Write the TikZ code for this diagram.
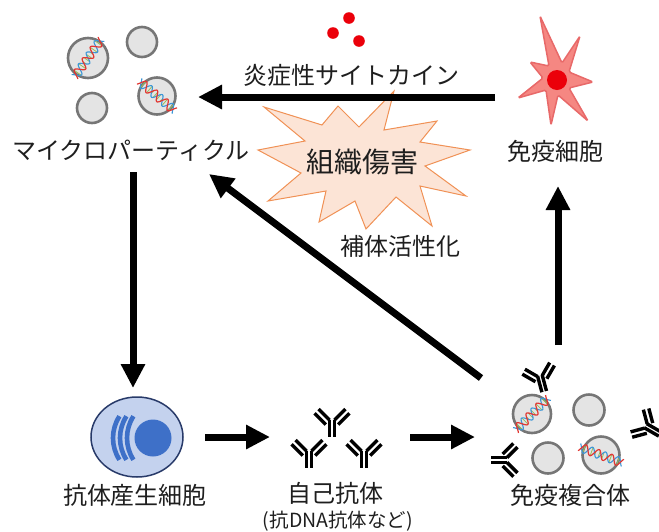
\documentclass[tikz,border=0pt]{standalone}
\usepackage{fontspec}
\setmainfont{Noto Sans CJK JP}
\usetikzlibrary{arrows.meta}

\definecolor{cellgray}{RGB}{228,228,228}
\definecolor{celledge}{RGB}{118,118,118}
\definecolor{dnared}{RGB}{225,55,50}
\definecolor{dnablue}{RGB}{60,150,215}
\definecolor{dnagreen}{RGB}{150,190,90}
\definecolor{burstfill}{RGB}{252,228,214}
\definecolor{burstedge}{RGB}{240,145,85}
\definecolor{dcfill}{RGB}{245,135,130}
\definecolor{dcedge}{RGB}{232,105,105}
\definecolor{dccore}{RGB}{235,0,10}
\definecolor{bfill}{RGB}{196,210,238}
\definecolor{bedge}{RGB}{40,58,105}
\definecolor{bnuc}{RGB}{62,112,200}
\definecolor{txt}{RGB}{30,30,30}

\tikzset{
  bigarrow/.style={line width=7pt, -{Triangle[length=24pt,width=23pt]}},
  label/.style={text=txt, font=\fontsize{24}{27}\selectfont, inner sep=0pt},
  particle/.style={fill=cellgray, draw=celledge, line width=2.6pt},
  abline/.style={line width=3.4pt, line cap=butt},
  % DNA double helix laid along the local x axis
  dna/.pic={
    \foreach \t in {-18,-14,...,18}
      \draw[dnagreen, line width=0.8pt] (\t,{4*sin(\t*26)}) -- (\t,{-4*sin(\t*26)});
    \draw[dnablue, line width=1.1pt]
      plot[domain=-23:23, samples=50, smooth] (\x,{-4.5*sin(\x*26)});
    \draw[dnared, line width=1.2pt]
      plot[domain=-23:23, samples=50, smooth] (\x,{4.5*sin(\x*26)});
  },
  % Y-shaped antibody, origin at the hinge, stem pointing along +y
  antibody/.pic={
    \draw[abline] (-2.5,-0.5) -- (-2.5,17);
    \draw[abline] (2.5,-0.5) -- (2.5,17);
    \draw[abline] (-2.5,0) -- (-13.5,-11);
    \draw[abline] (-6.2,4.6) -- (-17.5,-6.7);
    \draw[abline] (2.5,0) -- (13.5,-11);
    \draw[abline] (6.2,4.6) -- (17.5,-6.7);
  }
}

\begin{document}
\begin{tikzpicture}[x=1pt,y=-1pt]
\useasboundingbox (0,0) rectangle (659,531);

% ---- microparticles (top left)
\node[particle, circle, minimum size=40pt, inner sep=0pt] (mp1) at (88,58) {};
\pic[rotate=55] at (mp1) {dna};
\node[particle, circle, minimum size=30pt, inner sep=0pt] (mp2) at (142,42) {};
\node[particle, circle, minimum size=37pt, inner sep=0pt] (mp3) at (157,96) {};
\pic[rotate=-40] at (mp3) {dna};
\node[particle, circle, minimum size=30pt, inner sep=0pt] (mp4) at (92,108) {};
\node[label] (mplabel) at (131,151) {マイクロパーティクル};

% ---- cytokines
\fill[dccore] (349,18) circle (5.8);
\fill[dccore] (333,33) circle (5.8);
\fill[dccore] (359,41) circle (5.8);
\node[label] (cyto) at (351,75) {炎症性サイトカイン};

% ---- immune cell (dendritic shape)
\filldraw[fill=dcfill, draw=dcedge, line width=1.5pt, rounded corners=1.5pt]
  (540,16) -- (562,63) -- (580,36) -- (569,72) -- (593,82) -- (569,88)
  -- (588,121) -- (558,95) -- (551,125) -- (546,90) -- (518,98)
  -- (543,78) -- (530,62) -- (549,66) -- cycle;
\node[circle, fill=dccore, minimum size=20pt, inner sep=0pt] (dc) at (557,80) {};
\node[label] (dclabel) at (555,151) {免疫細胞};

% ---- tissue damage burst
\filldraw[fill=burstfill, draw=burstedge, line width=1pt, line join=miter]
  (394,91) -- (384,130) -- (437,121) -- (420,142) -- (470,150) -- (425,166)
  -- (466,196) -- (420,186) -- (432,226) -- (396,197) -- (366,229)
  -- (355,201) -- (319,222) -- (326,191) -- (268,201) -- (301,173)
  -- (258,150) -- (305,141) -- (264,107) -- (322,125) -- (338,106)
  -- (359,127) -- cycle;
\node[label, font=\fontsize{28}{31}\selectfont] (burst) at (362,162) {組織傷害};

% ---- antibody-producing cell
\filldraw[fill=bfill, draw=bedge, line width=1.5pt] (137,437) ellipse (46 and 40);
\node[circle, fill=bnuc, minimum size=37pt, inner sep=0pt] (bcell) at (153,438) {};
\foreach \dx in {0,7,14}
  \draw[bnuc, line width=4.6pt] ([shift={(153+\dx,438)}]147:40) arc[start angle=147, end angle=213, radius=40];
\node[label] (blabel) at (135,495) {抗体産生細胞};

% ---- autoantibodies
\pic at (332,420) {antibody};
\pic at (309,451) {antibody};
\pic at (364,451) {antibody};
\node[label] (ablabel) at (335,493) {自己抗体};
\node[label, font=\fontsize{19.5}{22}\selectfont] (abnote) at (338,521) {(抗DNA抗体など)};

% ---- immune complexes
\node[particle, circle, minimum size=38pt, inner sep=0pt] (ic1) at (532,414) {};
\pic[rotate=45] at (ic1) {dna};
\node[particle, circle, minimum size=31pt, inner sep=0pt] (ic2) at (589,410) {};
\node[particle, circle, minimum size=31pt, inner sep=0pt] (ic3) at (548,458) {};
\node[particle, circle, minimum size=37pt, inner sep=0pt] (ic4) at (601,455) {};
\pic[rotate=-20] at (ic4) {dna};
\pic[rotate=15, scale=0.95] at (540,376) {antibody};
\pic[rotate=-90, scale=0.95] at (507,460) {antibody};
\pic[rotate=60, scale=0.95] at (646,426) {antibody};
\node[label] (iclabel) at (570,495) {免疫複合体};
\node[label] (c3label) at (400,246) {補体活性化};

% ---- arrow end points
\coordinate (dc-w) at (495,97);
\coordinate (mp-e) at (198,97);
\coordinate (mp-s) at (133,172);
\coordinate (b-n) at (133,388);
\coordinate (mp-se) at (209,174);
\coordinate (ic-nw) at (481,378);
\coordinate (ic-n) at (558,345);
\coordinate (dc-s) at (558,186);
\coordinate (b-e) at (205,437);
\coordinate (ab-w) at (270,437);
\coordinate (ab-e) at (410,437);
\coordinate (ic-w) at (475,437);

% ---- connectors
\draw[bigarrow] (dc-w) -- (mp-e);
\draw[bigarrow] (mp-s) -- (b-n);
\draw[bigarrow] (ic-nw) -- (mp-se);
\draw[bigarrow] (ic-n) -- (dc-s);
\draw[bigarrow] (b-e) -- (ab-w);
\draw[bigarrow] (ab-e) -- (ic-w);
\end{tikzpicture}
\end{document}
